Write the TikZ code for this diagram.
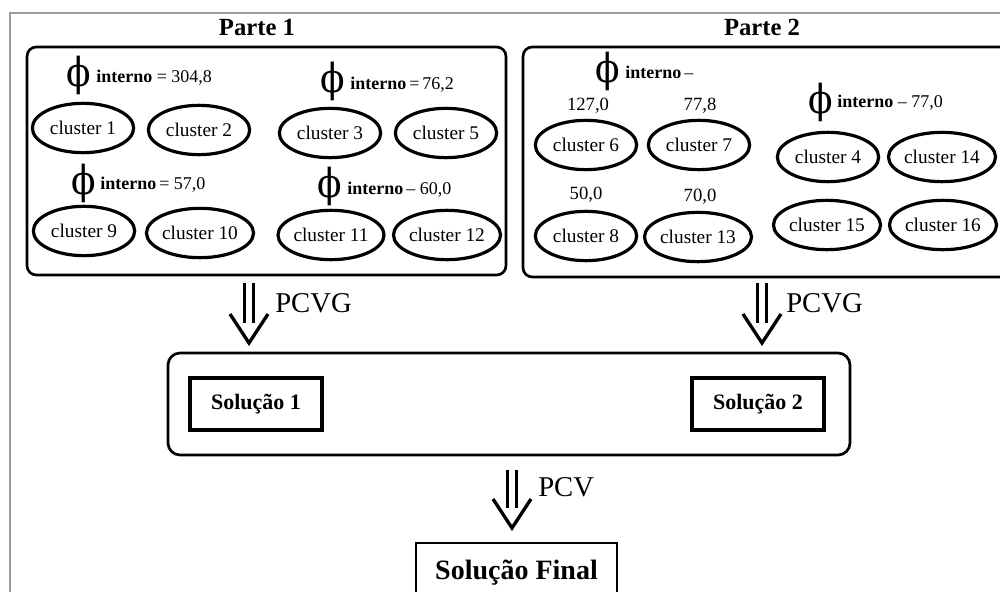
\documentclass[tikz,border=0pt]{standalone}
\usepackage{fontspec}
\setmainfont{Liberation Serif}
\newfontfamily\phifont{DejaVu Serif}
\usetikzlibrary{shapes.geometric}

% double-shafted arrow with an open V head, from #1 down to #2
\newcommand\dblarrow[2]{%
  \draw[shaftline] ([xshift=-3.2pt]#1) -- ([xshift=-3.2pt,yshift=15pt]#2);
  \draw[shaftline] ([xshift=3.2pt]#1) -- ([xshift=3.2pt,yshift=15pt]#2);
  \draw[vhead] ([xshift=-14.25pt,yshift=21.75pt]#2) -- (#2) -- ([xshift=14.25pt,yshift=21.75pt]#2);
}

\begin{document}
\begin{tikzpicture}[x=0.75pt,y=-0.75pt,
  outerframe/.style={draw=black!38, line width=1.5pt},
  partbox/.style={draw, line width=2pt, rounded corners=7pt},
  clus/.style={draw, ellipse, line width=2.4pt, minimum width=76pt, minimum height=37pt,
               inner sep=0pt, font=\fontsize{14.5}{16}\selectfont},
  title/.style={font=\bfseries\fontsize{18.5}{20}\selectfont, inner sep=0pt},
  phig/.style={font=\phifont\fontsize{30}{30}\selectfont, inner sep=0pt, xscale=0.9},
  itxt/.style={anchor=west, inner sep=0pt, font=\fontsize{13.5}{15}\selectfont},
  num/.style={inner sep=0pt, font=\fontsize{14}{15}\selectfont},
  solbox/.style={draw, line width=3pt, minimum width=99pt, minimum height=39pt,
                 inner sep=0pt, font=\bfseries\fontsize{16.5}{18}\selectfont},
  finalbox/.style={draw, line width=1.8pt, minimum width=151pt, minimum height=44pt,
                   inner sep=0pt, font=\bfseries\fontsize{21}{23}\selectfont},
  oplabel/.style={anchor=west, inner sep=0pt, font=\fontsize{21.5}{23}\selectfont},
  shaftline/.style={line width=2.4pt},
  vhead/.style={line width=2.5pt, line join=miter, line cap=butt},
]
\useasboundingbox (0,0) rectangle (1000,592);

% outer frame
\draw[outerframe] (10,600) -- (10,13) -- (1010,13);

% titles
\node[title] (t1) at (257,27) {Parte 1};
\node[title] (t2) at (762,27) {Parte 2};

% part containers
\draw[partbox] (27,47) rectangle (506,275);
\draw[partbox] (523,47) rectangle (1012,277);

% ---- Parte 1 ----
\node[phig] (f1) at (79,75) {ϕ};
\node[itxt] (i1) at (96,78) {\textbf{interno} = 304,8};
\node[clus] (c1) at (83,128) {cluster 1};
\node[clus] (c2) at (199,130) {cluster 2};

\node[phig] (f3) at (333,81) {ϕ};
\node[itxt] (i3) at (350,85) {\textbf{interno}\,=\,76,2};
\node[clus] (c3) at (330,133) {cluster 3};
\node[clus] (c5) at (446,133) {cluster 5};

\node[phig] (f9) at (84,183) {ϕ};
\node[itxt] (i9) at (100,185) {\textbf{interno}\,= 57,0};
\node[clus] (c9) at (84,231) {cluster 9};
\node[clus] (c10) at (200,233) {cluster 10};

\node[phig] (f11) at (330,186) {ϕ};
\node[itxt] (i11) at (347,190) {\textbf{interno}\,– 60,0};
\node[clus] (c11) at (331,235) {cluster 11};
\node[clus] (c12) at (447,235) {cluster 12};

% ---- Parte 2 ----
\node[phig] (f6) at (608,71) {ϕ};
\node[itxt] (i6) at (625,72) {\textbf{interno}\,–};
\node[num] (n6) at (588,106) {127,0};
\node[num] (n7) at (700,106) {77,8};
\node[clus] (c6) at (586,145) {cluster 6};
\node[clus] (c7) at (699,145) {cluster 7};
\node[num] (n8) at (586,195) {50,0};
\node[num] (n13) at (700,197) {70,0};
\node[clus] (c8) at (586,236) {cluster 8};
\node[clus] (c13) at (698,237) {cluster 13};

\node[phig] (f4) at (821,102) {ϕ};
\node[itxt] (i4) at (837,103) {\textbf{interno} – 77,0};
\node[clus] (c4) at (828,157) {cluster 4};
\node[clus] (c14) at (942,157) {cluster 14};
\node[clus] (c15) at (827,225) {cluster 15};
\node[clus] (c16) at (943,225) {cluster 16};

% ---- PCVG step ----
\coordinate (g1a) at (249,283);
\coordinate (g1b) at (249,343);
\dblarrow{g1a}{g1b}
\node[oplabel] (l1) at (275,303) {PCVG};

\coordinate (g2a) at (762,283);
\coordinate (g2b) at (762,343);
\dblarrow{g2a}{g2b}
\node[oplabel] (l2) at (786,303) {PCVG};

% partial solutions
\draw[partbox, rounded corners=9pt] (168,353) rectangle (850,455);
\node[solbox] (s1) at (256,404) {Solução 1};
\node[solbox] (s2) at (758,404) {Solução 2};

% ---- PCV step ----
\coordinate (pa) at (512,470);
\coordinate (pb) at (512,528);
\dblarrow{pa}{pb}
\node[oplabel] (l3) at (538,487) {PCV};

% final solution
\node[finalbox, anchor=north] (sf) at (516.5,542) {Solução Final};
\end{tikzpicture}
\end{document}
